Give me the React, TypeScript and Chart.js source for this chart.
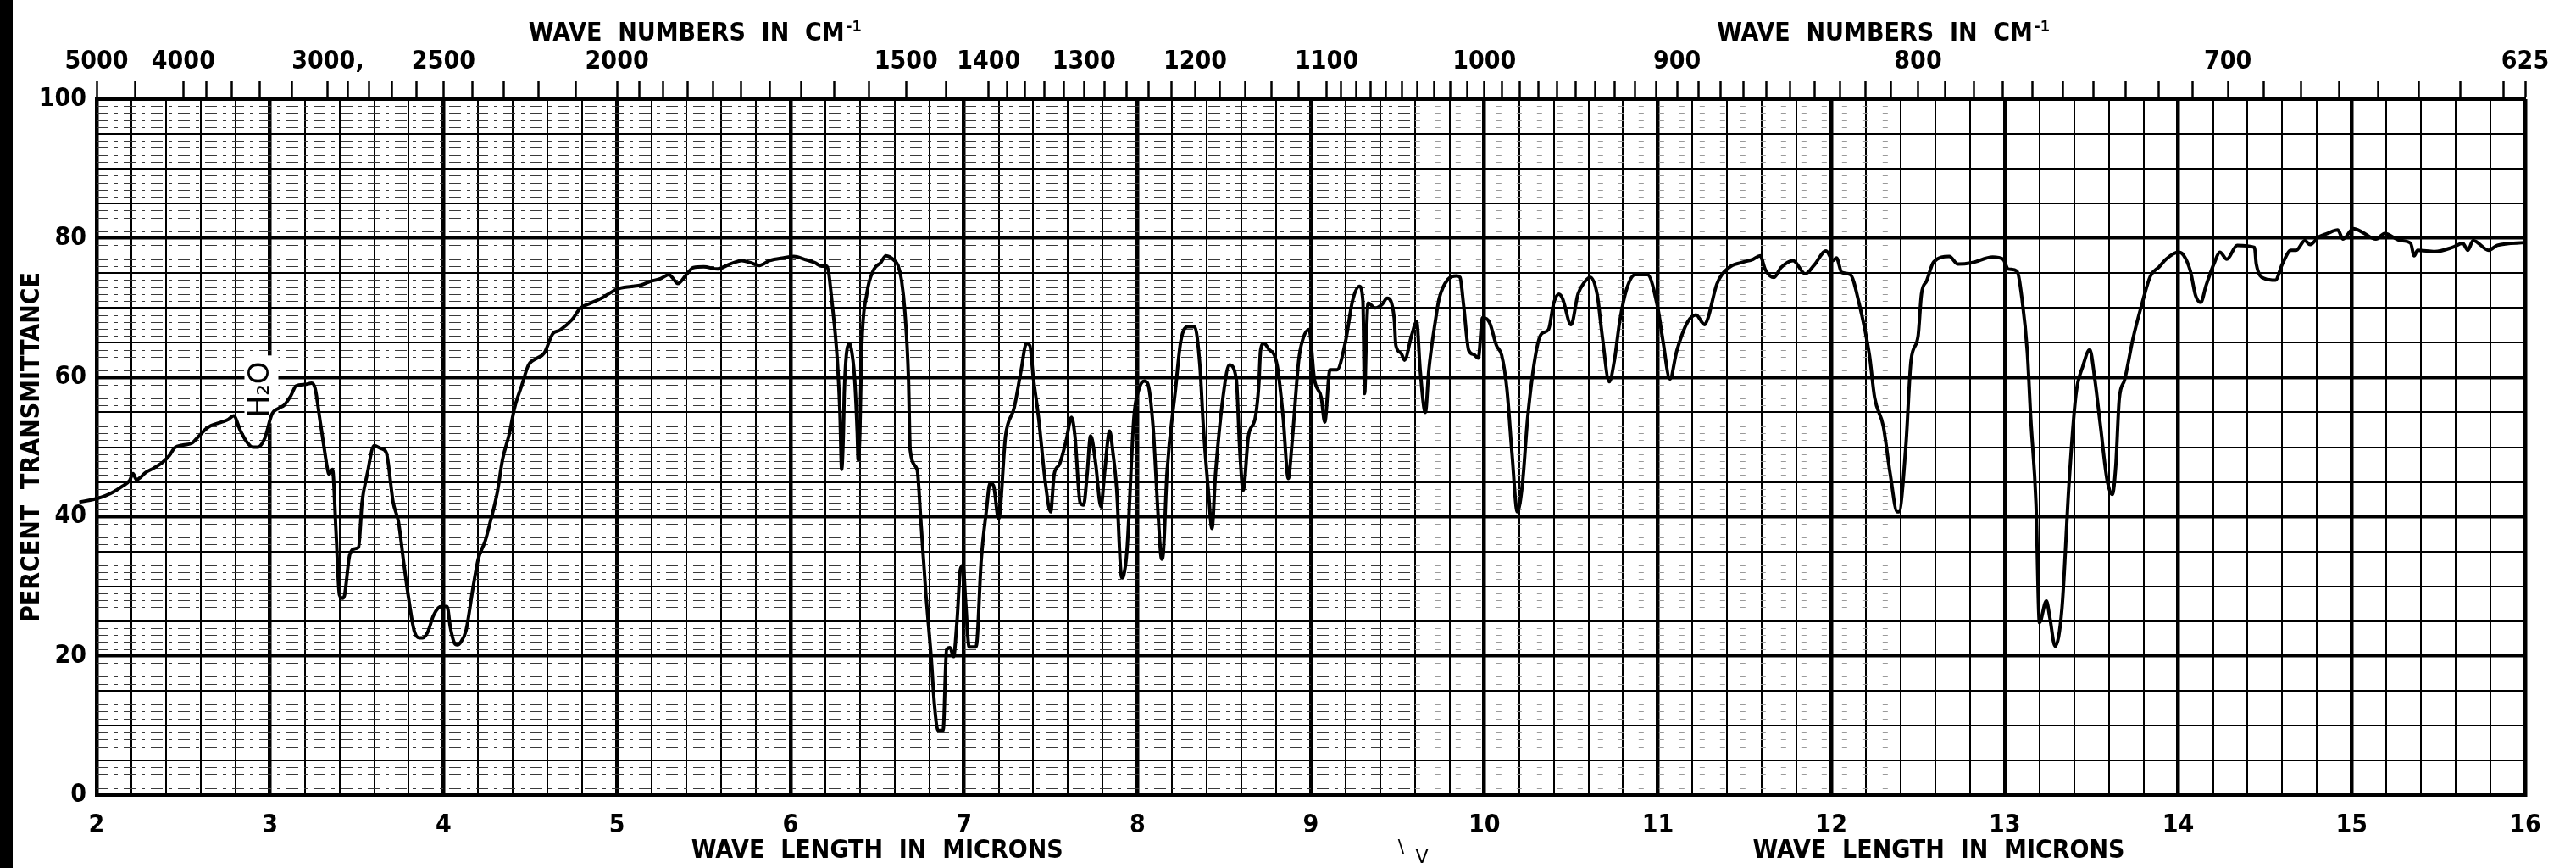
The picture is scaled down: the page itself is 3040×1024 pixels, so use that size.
import { useEffect, useRef } from "react";
import { Chart, registerables } from "chart.js";

Chart.register(...registerables);

const FONT = "'Liberation Sans Narrow', 'DejaVu Sans Condensed', 'Roboto Condensed', 'Liberation Sans', sans-serif";

// ---- spectrum (wavelength in microns, percent transmittance) ----
const UM_A = [1.75, 1.79, 1.83, 1.9, 2.0, 2.05, 2.1, 2.15, 2.19, 2.21, 2.23, 2.25, 2.28, 2.33, 2.38, 2.42, 2.45, 2.5, 2.55, 2.59, 2.63, 2.66, 2.72, 2.76, 2.79, 2.83, 2.87, 2.9, 2.93, 2.97, 3.01, 3.05, 3.08, 3.12, 3.15, 3.2, 3.24, 3.26, 3.29, 3.31, 3.33, 3.34, 3.36, 3.38, 3.4, 3.42, 3.43, 3.46, 3.49, 3.51, 3.53, 3.56, 3.6, 3.64, 3.67, 3.71, 3.74, 3.77, 3.79, 3.83, 3.86, 3.88, 3.91, 3.94, 3.97, 3.99, 4.02, 4.04, 4.06, 4.08, 4.1, 4.13, 4.17, 4.2, 4.24, 4.27, 4.31, 4.34, 4.38, 4.41, 4.45, 4.49, 4.54, 4.58, 4.63, 4.67, 4.74, 4.79, 4.85, 4.91, 4.95];
const T_A = [43.1, 42.2, 41.9, 42.1, 42.6, 43.0, 43.6, 44.4, 45.2, 46.2, 45.3, 45.6, 46.3, 47.0, 47.8, 48.8, 49.9, 50.3, 50.6, 51.6, 52.6, 53.1, 53.6, 54.0, 54.5, 52.3, 50.6, 50.0, 50.0, 51.3, 54.7, 55.6, 56.0, 57.4, 58.8, 59.0, 59.2, 58.4, 53.5, 50.2, 47.0, 46.1, 46.8, 38.0, 28.8, 28.3, 28.8, 34.6, 35.4, 35.6, 42.0, 46.1, 50.2, 49.8, 49.2, 42.0, 39.3, 33.5, 29.8, 23.7, 22.6, 22.6, 23.5, 25.7, 26.9, 27.1, 27.1, 24.0, 22.0, 21.6, 22.0, 23.7, 29.8, 33.9, 36.5, 39.3, 43.5, 48.2, 52.0, 55.7, 58.8, 61.8, 62.8, 63.5, 66.3, 66.8, 68.3, 70.0, 70.7, 71.4, 72.0];

const UM_B = [5.0, 5.05, 5.09, 5.14, 5.19, 5.25, 5.3, 5.33, 5.35, 5.4, 5.44, 5.5, 5.58, 5.65, 5.72, 5.77, 5.82, 5.88, 5.96, 6.02, 6.08, 6.14, 6.18, 6.21, 6.24, 6.27, 6.285, 6.295, 6.305, 6.31, 6.34, 6.36, 6.37, 6.385, 6.39, 6.4, 6.41, 6.44, 6.48, 6.52, 6.55, 6.6, 6.62, 6.64, 6.66, 6.68, 6.69, 6.73, 6.75, 6.78, 6.81, 6.83, 6.85, 6.88, 6.9, 6.92, 6.94, 6.96, 6.98, 6.995, 7.01, 7.03, 7.07, 7.1, 7.13, 7.15, 7.17, 7.2, 7.24, 7.29, 7.33, 7.36, 7.38, 7.4, 7.43, 7.47, 7.5, 7.52, 7.55, 7.59, 7.62, 7.64, 7.67, 7.69, 7.71, 7.73, 7.74, 7.76, 7.79, 7.81, 7.84, 7.86, 7.88, 7.91, 7.92, 7.94, 7.98];
const T_B = [72.7, 73.0, 73.1, 73.3, 73.8, 74.2, 74.8, 74.0, 73.5, 74.8, 75.8, 75.9, 75.6, 76.3, 76.8, 76.5, 76.1, 76.8, 77.2, 77.4, 77.0, 76.5, 76.0, 76.0, 70.7, 62.5, 55.0, 46.8, 52.0, 57.7, 64.9, 62.5, 59.8, 52.0, 48.2, 52.0, 63.9, 72.0, 75.5, 76.5, 77.5, 76.8, 76.1, 74.0, 69.3, 60.0, 49.6, 46.8, 40.0, 29.1, 20.2, 13.0, 9.3, 9.3, 20.9, 21.2, 19.9, 25.0, 32.5, 33.0, 27.7, 21.3, 21.3, 33.9, 41.0, 44.8, 44.5, 39.7, 51.6, 55.7, 61.1, 64.9, 64.6, 60.0, 54.3, 44.8, 40.7, 46.1, 47.5, 51.0, 54.3, 51.6, 42.0, 41.7, 46.0, 51.6, 51.0, 47.5, 41.4, 46.1, 52.3, 49.0, 44.1, 31.2, 31.5, 35.2, 54.3];

const UM_C = [8.01, 8.04, 8.06, 8.09, 8.12, 8.14, 8.15, 8.17, 8.22, 8.25, 8.29, 8.33, 8.36, 8.38, 8.41, 8.43, 8.45, 8.5, 8.53, 8.57, 8.59, 8.61, 8.64, 8.68, 8.7, 8.71, 8.73, 8.76, 8.79, 8.81, 8.84, 8.87, 8.89, 8.93, 8.95, 8.99, 9.02, 9.06, 9.08, 9.11, 9.15, 9.2, 9.24, 9.28, 9.3, 9.31, 9.32, 9.33, 9.37, 9.41, 9.44, 9.48, 9.49, 9.52, 9.54, 9.58, 9.61, 9.63, 9.66, 9.68, 9.72, 9.74, 9.79, 9.84, 9.86, 9.88, 9.91, 9.94, 9.965];
const T_C = [58.4, 59.5, 59.1, 53.0, 40.0, 33.9, 35.0, 46.1, 58.4, 65.2, 67.3, 67.3, 61.8, 53.0, 43.4, 38.3, 46.1, 58.4, 61.8, 59.8, 49.6, 43.8, 51.6, 54.3, 59.0, 63.9, 64.9, 64.0, 63.2, 61.1, 54.3, 45.5, 50.2, 62.5, 65.2, 66.9, 59.8, 57.1, 53.6, 61.1, 61.1, 65.2, 71.0, 73.1, 71.0, 57.7, 66.0, 70.7, 70.0, 70.5, 71.4, 68.6, 64.6, 63.5, 62.5, 66.0, 68.0, 61.1, 55.0, 61.1, 68.5, 71.4, 74.1, 74.6, 74.4, 70.5, 63.9, 63.3, 62.8];

const UM_D = [9.99, 10.03, 10.07, 10.1, 10.13, 10.16, 10.19, 10.22, 10.25, 10.3, 10.33, 10.37, 10.4, 10.43, 10.45, 10.5, 10.54, 10.58, 10.61, 10.65, 10.68, 10.72, 10.75, 10.78, 10.82, 10.87, 10.94, 11.0, 11.03, 11.07, 11.11, 11.17, 11.22, 11.27, 11.29, 11.34, 11.41, 11.48, 11.55, 11.59, 11.62, 11.67, 11.71, 11.78, 11.85, 11.9, 11.97, 12.01, 12.03, 12.06, 12.11, 12.16, 12.22, 12.25, 12.3, 12.34, 12.38, 12.39, 12.43, 12.46, 12.5, 12.52, 12.55, 12.59];
const T_D = [68.6, 67.9, 64.6, 63.2, 58.4, 48.9, 40.7, 44.8, 54.3, 63.9, 66.3, 66.9, 70.7, 72.0, 71.4, 67.6, 72.0, 73.8, 74.4, 72.0, 65.9, 59.4, 62.5, 68.0, 72.7, 74.8, 74.8, 70.0, 65.2, 59.8, 63.9, 67.9, 69.0, 67.6, 68.6, 73.4, 75.8, 76.5, 77.0, 77.5, 75.5, 74.4, 75.8, 76.8, 74.9, 76.1, 78.2, 76.8, 77.2, 75.1, 74.8, 70.7, 63.2, 57.1, 53.0, 46.1, 40.7, 40.7, 50.2, 62.5, 65.9, 72.0, 73.9, 76.6];

const UM_E = [12.68, 12.73, 12.81, 12.93, 12.99, 13.02, 13.07, 13.1, 13.13, 13.15, 13.18, 13.2, 13.24, 13.26, 13.29, 13.33, 13.37, 13.41, 13.45, 13.49, 13.52, 13.55, 13.59, 13.62, 13.64, 13.66, 13.69, 13.74, 13.79, 13.84, 13.89, 13.93, 14.0, 14.03, 14.07, 14.1, 14.13, 14.16, 14.21, 14.24, 14.28, 14.34, 14.44];
const T_E = [77.4, 76.3, 76.5, 77.3, 77.0, 75.6, 75.3, 71.2, 63.7, 54.1, 41.9, 24.8, 27.9, 25.5, 21.4, 26.9, 44.6, 57.5, 61.6, 64.0, 59.6, 53.4, 45.3, 43.2, 47.3, 56.9, 59.6, 65.7, 70.5, 74.6, 75.9, 77.0, 78.0, 77.6, 75.3, 71.8, 70.8, 73.2, 76.6, 78.0, 77.0, 79.0, 78.7];

const UM_F = [14.45, 14.5, 14.56, 14.6, 14.65, 14.68, 14.73, 14.76, 14.81, 14.86, 14.92, 14.95, 15.01, 15.06, 15.14, 15.19, 15.28, 15.34, 15.36, 15.38, 15.48, 15.58, 15.64, 15.67, 15.7, 15.79, 15.84, 16.0];
const T_F = [76.3, 74.2, 74.0, 76.3, 78.3, 78.3, 79.7, 79.1, 80.2, 80.7, 81.2, 79.9, 81.4, 80.9, 79.9, 80.7, 79.7, 79.3, 77.5, 78.3, 78.1, 78.7, 79.3, 78.3, 79.7, 78.3, 79.0, 79.4];

// ---- axes ----
const X_MIN = 2;
const X_MAX = 16;
const X_LABELS = ["2", "3", "4", "5", "6", "7", "8", "9", "10", "11", "12", "13", "14", "15", "16"];
const Y_LABELS = ["0", "20", "40", "60", "80", "100"];
const TOP_LABEL_WN = [5000, 4000, 3000, 2500, 2000, 1500, 1400, 1300, 1200, 1100, 1000, 900, 800, 700, 625];
const TOP_LABEL_TEXT = ["5000", "4000", "3000,", "2500", "2000", "1500", "1400", "1300", "1200", "1100", "1000", "900", "800", "700", "625"];
const TOP_MINOR_WN = [
  4500, 3800, 3600, 3400, 3200, 2900, 2800, 2700, 2600, 2400, 2300, 2200, 2100,
  1950, 1900, 1850, 1800, 1750, 1700, 1650, 1600, 1550, 1450,
  1380, 1360, 1340, 1320, 1280, 1260, 1240, 1220, 1180, 1160, 1140, 1120,
  1090, 1080, 1070, 1060, 1050, 1040, 1030, 1020, 1010,
  990, 980, 970, 960, 950, 940, 930, 920, 910,
  890, 880, 870, 860, 850, 840, 830, 820, 810,
  790, 780, 770, 760, 750, 740, 730, 720, 710,
  690, 680, 670, 660, 650, 640, 630,
];
const TOP_TITLE = "WAVE  NUMBERS  IN  CM";
const BOTTOM_TITLE = "WAVE  LENGTH  IN  MICRONS";
const Y_TITLE = "PERCENT  TRANSMITTANCE";

function gridSteps(min: number, max: number, step: number) {
  const out: number[] = [];
  for (let v = min; v <= max + 1e-9; v += step) out.push(Math.round(v * 1000) / 1000);
  return out;
}

const annotationPlugin = {
  id: "irDecor",
  beforeDatasetsDraw(chart: any) {
    const { ctx, chartArea, scales } = chart;
    const x = scales.x;
    const y = scales.y;
    ctx.save();
    ctx.beginPath();
    ctx.rect(chartArea.left, chartArea.top, chartArea.right - chartArea.left, chartArea.bottom - chartArea.top);
    ctx.clip();
    // fine 1% lines, printed dashed and faded on the scan
    for (let v = 1; v < 100; v++) {
      if (v % 5 === 0) continue;
      const py = Math.round(y.getPixelForValue(v)) + 0.5;
      ctx.lineWidth = 1;
      ctx.strokeStyle = "#3a3a3a";
      ctx.setLineDash([14, 7, 4, 7]);
      ctx.beginPath();
      ctx.moveTo(x.getPixelForValue(2), py);
      ctx.lineTo(x.getPixelForValue(9.6), py);
      ctx.stroke();
      ctx.strokeStyle = "#9a9a9a";
      ctx.setLineDash([6, 18]);
      ctx.beginPath();
      ctx.moveTo(x.getPixelForValue(9.6), py);
      ctx.lineTo(x.getPixelForValue(12.4), py);
      ctx.stroke();
    }
    ctx.setLineDash([]);
    // the hand-lettered H2O note sits on a cleared patch of the grid
    const hx = x.getPixelForValue(2.95);
    const hy = y.getPixelForValue(58.3);
    ctx.fillStyle = "#fff";
    ctx.fillRect(hx - 20, hy - 40, 40, 80);
    ctx.restore();
  },
  afterDraw(chart: any) {
    const { ctx, scales } = chart;
    const x = scales.x;
    const y = scales.y;
    ctx.save();
    ctx.fillStyle = "#000";
    ctx.textBaseline = "middle";
    ctx.textAlign = "center";
    // top titles with superscript
    const drawTop = (um: number) => {
      ctx.font = `bold 30px ${FONT}`;
      const w = ctx.measureText(TOP_TITLE).width;
      ctx.font = `bold 18px ${FONT}`;
      const ws = ctx.measureText("-1").width;
      const cx = x.getPixelForValue(um);
      const left = cx - (w + ws + 2) / 2;
      ctx.textAlign = "left";
      ctx.font = `bold 30px ${FONT}`;
      ctx.fillText(TOP_TITLE, left, 40);
      ctx.font = `bold 18px ${FONT}`;
      ctx.fillText("-1", left + w + 2, 32);
      ctx.textAlign = "center";
    };
    drawTop(5.45);
    drawTop(12.3);
    // bottom titles
    ctx.font = `bold 30px ${FONT}`;
    ctx.fillText(BOTTOM_TITLE, x.getPixelForValue(6.5), 1004);
    ctx.fillText(BOTTOM_TITLE, x.getPixelForValue(12.62), 1004);
    // y title
    ctx.save();
    ctx.translate(38, y.getPixelForValue(50));
    ctx.rotate(-Math.PI / 2);
    ctx.fillText(Y_TITLE, 0, 0);
    ctx.restore();
    // H2O note written on the chart
    ctx.save();
    ctx.translate(x.getPixelForValue(2.95), y.getPixelForValue(58.3));
    ctx.rotate(-Math.PI / 2);
    ctx.font = `34px 'DejaVu Sans', sans-serif`;
    ctx.fillText("H\u2082O", 0, 0);
    ctx.restore();
    // stray pen marks below the chart
    ctx.font = `22px 'DejaVu Sans', sans-serif`;
    ctx.fillText("\\", x.getPixelForValue(9.52), 1000);
    ctx.fillText("V", x.getPixelForValue(9.64), 1012);
    ctx.restore();
  },
};

export default function App() {
  const ref = useRef<HTMLCanvasElement | null>(null);

  useEffect(() => {
    if (!ref.current) return;
    const um = [...UM_A, ...UM_B, ...UM_C, ...UM_D, ...UM_E, ...UM_F];
    const t = [...T_A, ...T_B, ...T_C, ...T_D, ...T_E, ...T_F];
    const points = um.map((v, i) => ({ x: v, y: t[i] }));
    const xGrid = gridSteps(X_MIN, X_MAX, 0.2);
    const yGrid = gridSteps(0, 100, 5);
    const topTicks = [
      ...TOP_LABEL_WN.map((wn, i) => ({ value: 10000 / wn, label: TOP_LABEL_TEXT[i] })),
      ...TOP_MINOR_WN.map((wn) => ({ value: 10000 / wn, label: "" })),
    ].sort((a, b) => a.value - b.value);

    const isInt = (v: number) => Math.abs(v - Math.round(v)) < 1e-6;

    const chart = new Chart(ref.current, {
      type: "line",
      data: {
        datasets: [
          {
            data: points,
            borderColor: "#000",
            borderWidth: 4,
            pointRadius: 0,
            tension: 0,
            cubicInterpolationMode: "monotone",
            clip: false as any,
            fill: false,
          },
        ],
      },
      options: {
        animation: false,
        responsive: false,
        devicePixelRatio: 1,
        parsing: false,
        layout: { padding: { left: 0, right: 60, top: 0, bottom: 0 } },
        plugins: { legend: { display: false }, tooltip: { enabled: false }, title: { display: false } },
        scales: {
          x: {
            type: "linear",
            position: "bottom",
            min: X_MIN,
            max: X_MAX,
            afterBuildTicks: (s: any) => {
              s.ticks = xGrid.map((v) => ({ value: v }));
            },
            afterFit: (s: any) => {
              s.height = 86;
              s.paddingLeft = 0;
              s.paddingRight = 0;
            },
            ticks: {
              autoSkip: false,
              maxRotation: 0,
              minRotation: 0,
              padding: 18,
              color: "#000",
              font: { family: FONT, size: 30, weight: "bold" },
              callback: (v: any) => (isInt(v) ? X_LABELS[Math.round(v) - 2] : ""),
            },
            grid: {
              drawTicks: false,
              color: "#000",
              lineWidth: (c: any) => (isInt(c.tick.value) ? 4.5 : 2),
            },
            border: { display: true, color: "#000", width: 4 },
          },
          xTop: {
            type: "linear",
            position: "top",
            min: X_MIN,
            max: X_MAX,
            afterBuildTicks: (s: any) => {
              s.ticks = topTicks.map((tk) => ({ value: tk.value }));
            },
            afterFit: (s: any) => {
              s.height = 117;
              s.paddingLeft = 0;
              s.paddingRight = 0;
            },
            ticks: {
              autoSkip: false,
              maxRotation: 0,
              minRotation: 0,
              padding: 4,
              color: "#000",
              font: { family: FONT, size: 30, weight: "bold" },
              callback: (_v: any, i: number) => topTicks[i].label,
            },
            grid: {
              drawOnChartArea: false,
              drawTicks: true,
              tickLength: 22,
              tickWidth: 2.5,
              tickColor: "#000",
              color: "#000",
            },
            border: { display: true, color: "#000", width: 4 },
          },
          y: {
            type: "linear",
            min: 0,
            max: 100,
            afterBuildTicks: (s: any) => {
              s.ticks = yGrid.map((v) => ({ value: v }));
            },
            afterFit: (s: any) => {
              s.width = 114;
              s.paddingTop = 0;
              s.paddingBottom = 0;
            },
            ticks: {
              autoSkip: false,
              padding: 12,
              color: "#000",
              font: { family: FONT, size: 30, weight: "bold" },
              callback: (v: any) => (Math.round(v) % 20 === 0 ? Y_LABELS[Math.round(v) / 20] : ""),
            },
            grid: {
              drawTicks: false,
              color: "#000",
              lineWidth: (c: any) => (Math.round(c.tick.value) % 20 === 0 ? 3.5 : 2),
            },
            border: { display: true, color: "#000", width: 4 },
          },
        },
      } as any,
      plugins: [annotationPlugin],
    });
    return () => chart.destroy();
  }, []);

  return (
    <div style={{ position: "absolute", left: 0, top: 0, width: 3040, height: 1024, background: "#fff", overflow: "hidden" }}>
      <div style={{ position: "absolute", left: 0, top: 0, width: 15, height: 1024, background: "#000" }} />
      <canvas ref={ref} width={3040} height={1024} style={{ position: "absolute", left: 0, top: 0, width: 3040, height: 1024 }} />
    </div>
  );
}
